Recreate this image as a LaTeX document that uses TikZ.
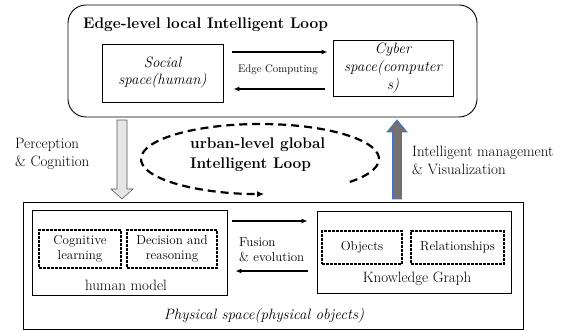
\documentclass[tikz,border=0pt]{standalone}
\usetikzlibrary{positioning,arrows.meta,calc}
\definecolor{arrowlight}{HTML}{E7E6E6}
\definecolor{arrowdark}{HTML}{767171}
\definecolor{arrowblue}{HTML}{4472C4}

\begin{document}
\begin{tikzpicture}[
        x = 1pt,
        y = -1pt,
        box/.style = {draw, line width = 0.9pt, inner sep = 0pt, align = center},
        dashbox/.style = {draw, line width = 1.8pt, dash pattern = on 3pt off 1pt,
            inner sep = 0pt, align = center, font = \fontsize{13}{15.5}\selectfont},
        lbl/.style = {inner sep = 0pt, align = left, anchor = west,
            font = \fontsize{15}{18}\selectfont},
        flow/.style = {-{Latex[length = 6pt, width = 5pt]}, line width = 1.6pt},
        ]
    \useasboundingbox (0, 0) rectangle (570, 331);

    % edge-level loop
    \node[box, rounded corners = 18pt, minimum width = 409pt, minimum height = 112pt] (edge) at (272.5, 61) {};
    \node[lbl, font = \bfseries\fontsize{15.4}{20}\selectfont] (edgetitle) at (83, 25) {Edge-level local Intelligent Loop};
    \node[box, minimum width = 121pt, minimum height = 58pt, font = \itshape\fontsize{15}{17}\selectfont] (social) at (162.5, 73) {Social\\space(human)};
    \node[box, minimum width = 120pt, minimum height = 56pt, font = \itshape\fontsize{15}{18}\selectfont] (cyber) at (393, 68) {Cyber\\space(computer\\s)};
    \node[font = \fontsize{11}{14}\selectfont] (edgecomp) at (278, 70) {Edge Computing};
    \draw[flow, shorten <= 9pt, shorten >= 5pt] ([yshift = 21pt]social.east) -- ([yshift = 21pt]social.east -| cyber.west);
    \draw[flow, shorten <= 8pt, shorten >= 10pt] ([yshift = -21pt]cyber.west) -- ([yshift = -21pt]cyber.west -| social.east);

    % urban-level loop
    \draw[draw = gray!70!black, fill = arrowlight, line width = 0.6pt] (117, 120) -- (127, 120) -- (127, 189) -- (133, 189) -- (122, 199) -- (111, 189) -- (117, 189) -- cycle;
    \draw[draw = arrowblue, fill = arrowdark, line width = 0.8pt] (392.5, 199) -- (392.5, 132) -- (387, 132) -- (397, 120) -- (407, 132) -- (401.5, 132) -- (401.5, 199) -- cycle;
    \node[lbl] (percep) at (15, 154) {Perception\\\& Cognition};
    \node[lbl] (manage) at (412, 160) {Intelligent management\\\& Visualization};
    \draw[-{Latex[length = 7pt, width = 6pt]}, line width = 2.2pt, dash pattern = on 8pt off 5pt]
        ($(260, 159) + (41:119 and 35)$) arc[start angle = 41, end angle = -272, x radius = 119, y radius = 35];
    \node[lbl, font = \bfseries\fontsize{15.4}{20}\selectfont] (urban) at (190, 155) {urban-level global\\Intelligent Loop};

    % physical space
    \node[box, minimum width = 500pt, minimum height = 127pt] (phys) at (273, 265.5) {};
    \node[box, minimum width = 195pt, minimum height = 85pt] (human) at (129.5, 253) {};
    \node[dashbox, minimum width = 82pt, minimum height = 38pt] (cog) at (80, 249) {Cognitive\\learning};
    \node[dashbox, minimum width = 90pt, minimum height = 38pt] (dec) at (172, 249) {Decision and\\reasoning};
    \node[font = \fontsize{15}{18}\selectfont] (humanlbl) at (126, 285) {human model};
    \node[box, minimum width = 194pt, minimum height = 82pt] (kg) at (414, 252.5) {};
    \node[dashbox, minimum width = 80pt, minimum height = 33pt] (obj) at (362, 247.5) {Objects};
    \node[dashbox, minimum width = 93pt, minimum height = 33pt] (rel) at (457.5, 247.5) {Relationships};
    \node[font = \fontsize{15}{18}\selectfont] (kglbl) at (417, 279) {Knowledge Graph};
    \node[lbl, font = \fontsize{13}{15.5}\selectfont] (fusion) at (239, 249.5) {Fusion\\\& evolution};
    \draw[flow, shorten <= 5pt, shorten >= 9pt] ([yshift = 32pt]human.east) -- ([yshift = 32pt]human.east -| kg.west);
    \draw[flow, shorten <= 9pt, shorten >= 8pt] ([yshift = -18.5pt]kg.west) -- ([yshift = -18.5pt]kg.west -| human.east);
    \node[font = \itshape\fontsize{15}{18}\selectfont] (physlbl) at (264, 316) {Physical space(physical objects)};
\end{tikzpicture}
\end{document}
